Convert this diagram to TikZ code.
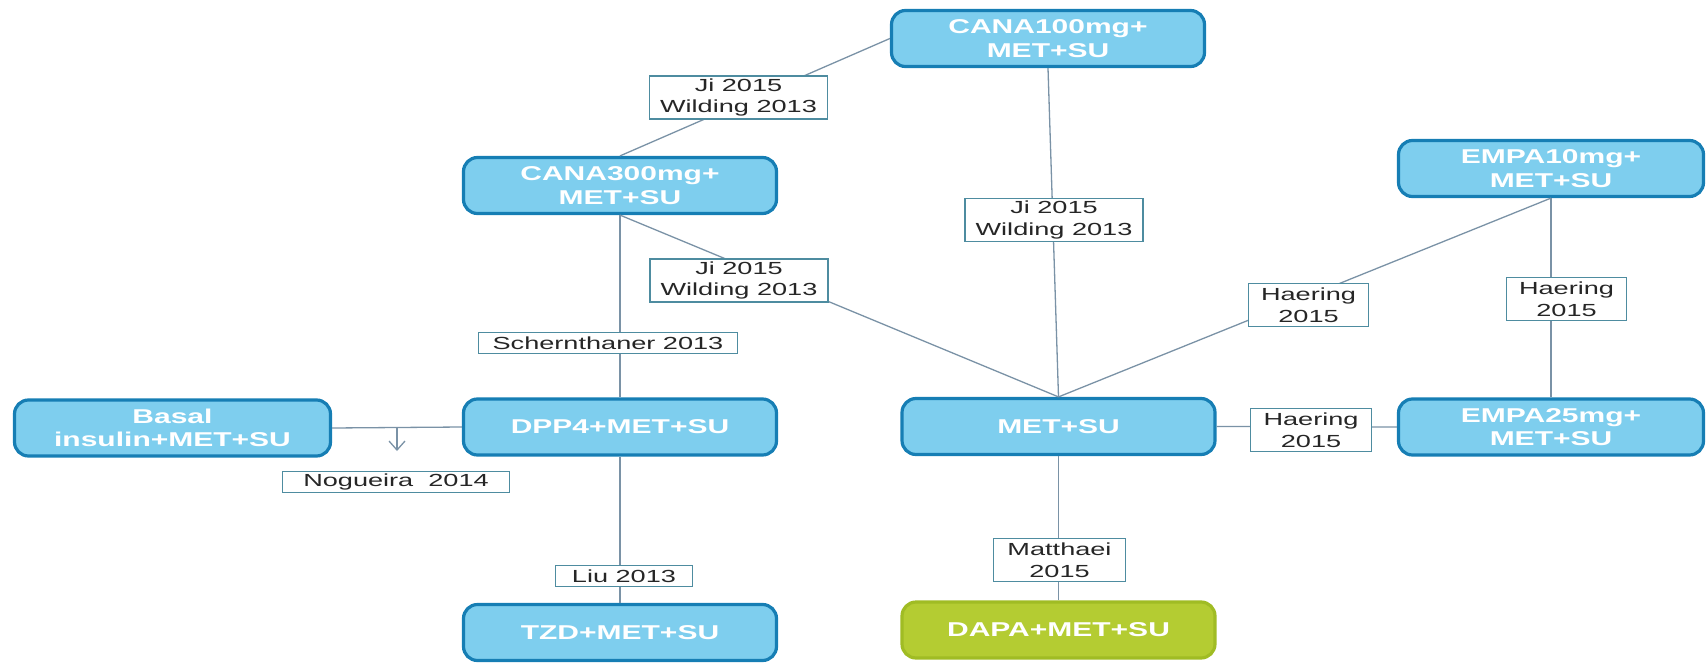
\documentclass[tikz,border=0pt]{standalone}
\usepackage{fontspec}
\setmainfont{Liberation Sans}
\newfontfamily\drugfont{Liberation Sans}[FakeStretch=1.5]
\newfontfamily\citefont{Liberation Sans}[FakeStretch=1.55]
\usetikzlibrary{arrows.meta}

\definecolor{boxfill}{RGB}{126,206,238}
\definecolor{boxline}{RGB}{22,126,180}
\definecolor{dapafill}{RGB}{180,204,50}
\definecolor{dapaline}{RGB}{160,188,36}
\definecolor{linkcol}{RGB}{122,146,166}
\definecolor{citeline}{RGB}{78,140,160}

\begin{document}
\begin{tikzpicture}[x=1pt,y=-1pt,
  drug/.style={draw=boxline, fill=boxfill, line width=3.2pt, rounded corners=14pt,
    minimum width=313pt, minimum height=56pt, inner sep=0pt, text=white,
    font={\drugfont\bfseries\fontsize{20}{23.5}\selectfont}, align=center},
  dapabox/.style={drug, draw=dapaline, fill=dapafill},
  cite/.style={draw=citeline, fill=white, line width=1.2pt, inner sep=0pt,
    text=black!85, font={\citefont\fontsize{17.5}{21.5}\selectfont}, align=center},
  twoline/.style={cite, minimum height=43pt},
  oneline/.style={cite, minimum height=21pt},
  link/.style={draw=linkcol, line width=1.3pt}]

\useasboundingbox (0,0) rectangle (1706,664);

% treatment boxes
\node[drug] (c100) at (1048,38.5) {CANA100mg+\\MET+SU};
\node[drug] (c300) at (620,185.5) {CANA300mg+\\MET+SU};
\node[drug, minimum width=305pt] (e10) at (1551,168.5) {EMPA10mg+\\MET+SU};
\node[drug, minimum width=316pt] (basal) at (172.5,428) {Basal\\insulin+MET+SU};
\node[drug] (dpp) at (620,427) {DPP4+MET+SU};
\node[drug] (met) at (1058.5,426.5) {MET+SU};
\node[drug, minimum width=305pt] (e25) at (1551,427) {EMPA25mg+\\MET+SU};
\node[drug] (tzd) at (620,632.5) {TZD+MET+SU};
\node[dapabox] (dapa) at (1058.5,630) {DAPA+MET+SU};

% comparisons
\draw[link] (c300.north) -- (c100.west);
\draw[link] (c300.south) -- (met.north);
\draw[link] (c300.south) -- (dpp.north);
\draw[link] (c100.south) -- (met.north);
\draw[link] (e10.south) -- (met.north);
\draw[link] (e10.south) -- (e25.north);
\draw[link] (met.east) -- (e25.west);
\draw[link] (met.south) -- (dapa.north);
\draw[link] (basal.east) -- (dpp.west);
\draw[link] (dpp.south) -- (tzd.north);
\coordinate (nogtop) at (397,428);
\coordinate (nogtip) at (397,451);
\draw[link, -{Straight Barb[length=9pt,width=16pt,line width=1.3pt]}] (nogtop) -- (nogtip);

% study labels
\node[twoline, minimum width=178pt] (ji1) at (738.5,97.5) {Ji 2015\\Wilding 2013};
\node[twoline, minimum width=178pt] (ji2) at (739,280.5) {Ji 2015\\Wilding 2013};
\node[twoline, minimum width=178pt] (ji3) at (1054,220) {Ji 2015\\Wilding 2013};
\node[oneline, minimum width=259pt] (sch) at (608,343) {Schernthaner 2013};
\node[oneline, minimum width=227pt] (nog) at (396,482) {Nogueira\ \ 2014};
\node[oneline, minimum width=137pt] (liu) at (624,576) {Liu 2013};
\node[twoline, minimum width=120pt] (hl) at (1308.5,305) {Haering\\2015};
\node[twoline, minimum width=120pt] (hr) at (1566.5,299) {Haering\\2015};
\node[twoline, minimum width=121pt] (hm) at (1311,430) {Haering\\2015};
\node[twoline, minimum width=132pt] (mat) at (1059.5,560) {Matthaei\\2015};
\end{tikzpicture}
\end{document}
